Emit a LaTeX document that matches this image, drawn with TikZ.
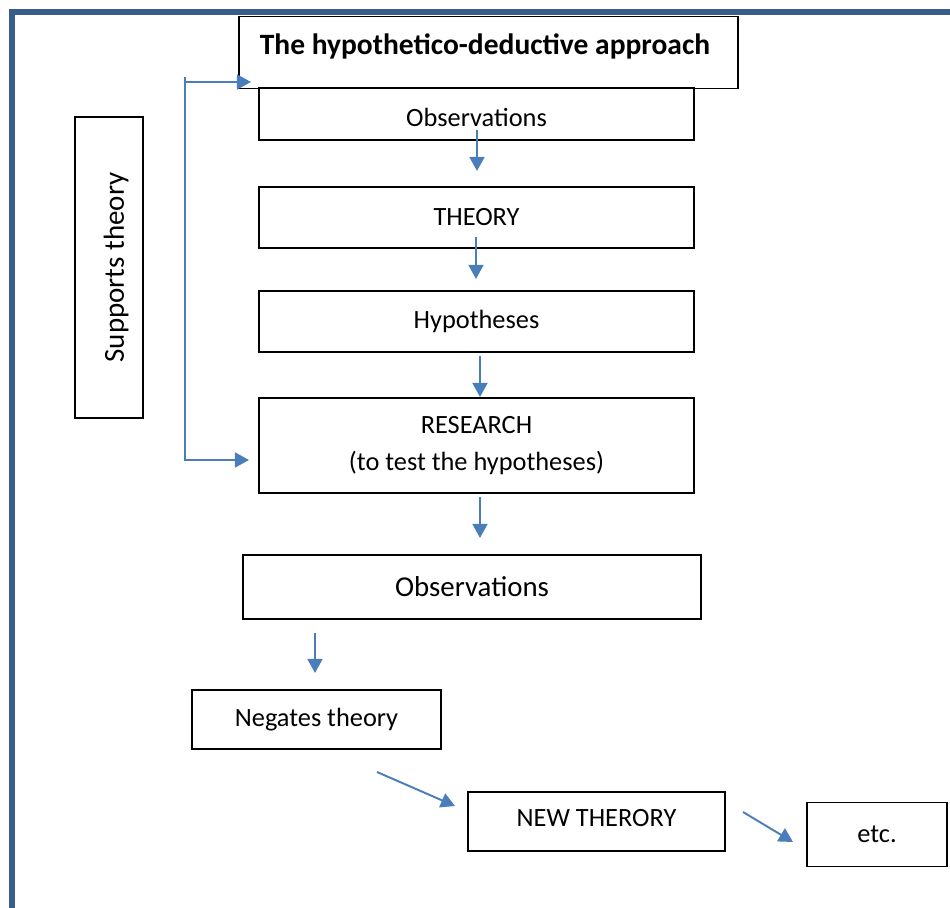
\documentclass[tikz,border=0pt]{standalone}
\usepackage{fontspec}
\setmainfont{Carlito}
\usepackage{xcolor}
\usetikzlibrary{arrows.meta,calc,positioning}
\definecolor{framecol}{HTML}{3A5E8C}
\definecolor{arrcol}{HTML}{4A7EBB}

\begin{document}
\begin{tikzpicture}[x=0.02cm, y=-0.02cm,
	every node/.style={font=\fontsize{15}{18}\selectfont},
	box/.style={draw, line width=1.1pt, inner sep=0pt, align=center},
	arr/.style={color=arrcol, line width=1.1pt, -{Triangle[width=8.5pt,length=8pt]}}]
		
		\useasboundingbox (0,0) rectangle (950,908);
		\clip (0,0) rectangle (950,908);
		\draw[framecol, line width=3.1pt] (12,12) rectangle (1000,1000);
		
		% main column
		\node[box, minimum width=8.7cm, minimum height=1.04cm, text height=14.6pt, text depth=0.5pt] (obsA) at (476.5,114) {Observations};
		\node[box, minimum width=10cm, minimum height=1.44cm, text height=12pt, text depth=9.8pt, font=\bfseries\fontsize{16.8}{20}\selectfont] (title) at (488.5,52.5) {\hspace*{-0.14cm}The hypothetico-deductive approach};
		\node[box, minimum width=8.7cm, minimum height=1.22cm] (theory) at (476.5,217.5) {THEORY};
		\node[box, minimum width=8.7cm, minimum height=1.22cm] (hyp) at (476.5,321.5) {Hypotheses};
		\node[box, minimum width=8.7cm, minimum height=1.9cm, font=\fontsize{15}{21.5}\selectfont] (res) at (476.5,445.5) {RESEARCH\\(to test the hypotheses)};
		\node[box, minimum width=9.16cm, minimum height=1.28cm, font=\fontsize{16.4}{20}\selectfont] (obsB) at (472,587) {Observations};
		
		% outcomes
		\node[box, minimum width=4.98cm, minimum height=1.18cm] (neg) at (316.5,719.5) {Negates theory};
		\node[box, minimum width=5.14cm, minimum height=1.18cm, text height=11pt, text depth=5pt] (newth) at (596.5,821.5) {NEW THERORY};
		\node[box, minimum width=2.8cm, minimum height=1.28cm] (etc) at (877,834.5) {etc.};
		\node[box, rotate=90, minimum width=6.02cm, minimum height=1.36cm, text height=17pt, text depth=0pt, font=\fontsize{16.5}{20}\selectfont] (supp) at (109,267.5) {Supports theory};
		
		\coordinate (a1) at (477,130);  \coordinate (b1) at (477,171);
		\coordinate (a2) at (476,237);  \coordinate (b2) at (476,279);
		\coordinate (a3) at (480,356);  \coordinate (b3) at (480,397);
		\coordinate (a4) at (480,497);  \coordinate (b4) at (480,538);
		\coordinate (a5) at (315,633);  \coordinate (b5) at (315,673);
		\coordinate (a6) at (377,772);  \coordinate (b6) at (455,806);
		\coordinate (a7) at (743,812);  \coordinate (b7) at (793,842);
		\coordinate (lt) at (185,77);   \coordinate (lb) at (185,460);
		\coordinate (le) at (249,460);  \coordinate (lh) at (251,82);
		
		\path
		(a1) edge[arr] (b1)
		(a2) edge[arr] (b2)
		(a3) edge[arr] (b3)
		(a4) edge[arr] (b4)
		(a5) edge[arr] (b5)
		(a6) edge[arr] (b6)
		(a7) edge[arr] (b7)
		;
		
		% feedback loop
		\draw[arr] (lt) -- (lb) -- (le);
		\draw[arr] (lt |- lh) -- (lh);
		\end{tikzpicture}
\end{document}
